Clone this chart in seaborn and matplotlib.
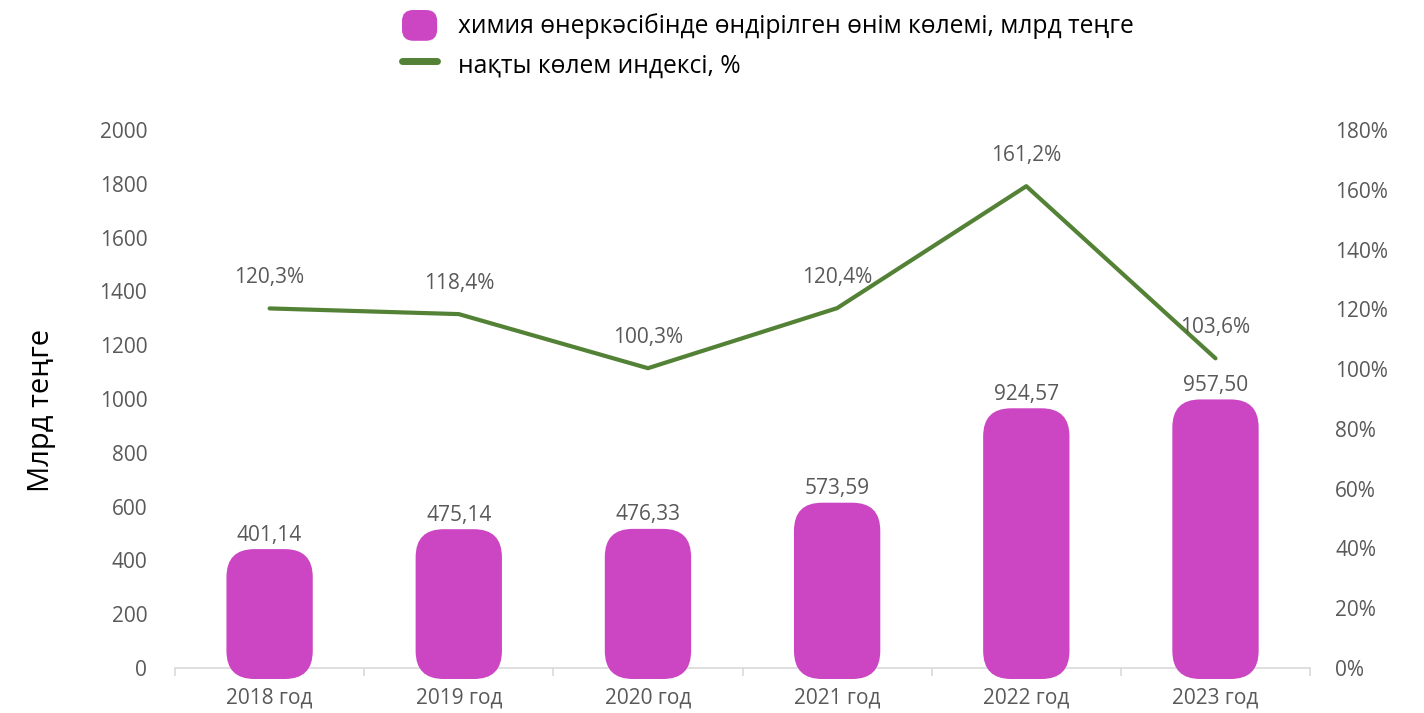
"""
Chemical industry output volume and real volume index, 2018-2023.
"""

import numpy as np
import pandas as pd
import matplotlib
matplotlib.use("Agg")
import matplotlib.pyplot as plt
import seaborn as sns
from matplotlib.patches import FancyBboxPatch
from matplotlib.lines import Line2D
from matplotlib.legend_handler import HandlerPatch
from matplotlib.ticker import FixedLocator

years = ["2018 год", "2019 год", "2020 год", "2021 год", "2022 год", "2023 год"]
output_bn = [401.14, 475.14, 476.33, 573.59, 924.57, 957.50]
volume_index = [120.3, 118.4, 100.3, 120.4, 161.2, 103.6]

bar_label = "химия өнеркәсібінде өндірілген өнім көлемі, млрд теңге"
line_label = "нақты көлем индексі, %"

BAR_COLOR = "#CC46C3"
LINE_COLOR = "#538135"
TEXT_GRAY = "#595959"

sns.set_theme(style="white")
plt.rcParams["font.family"] = ["Open Sans", "DejaVu Sans"]

df = pd.DataFrame({"year": years, "output": output_bn, "index": volume_index})

fig = plt.figure(figsize=(14.24, 7.13), dpi=100)
ax = fig.add_axes([0.1229, 0.0631, 0.7971, 0.7546])

sns.barplot(data=df, x="year", y="output", color=BAR_COLOR, width=0.34,
            saturation=1, ax=ax)

# swap plain bars for rounded ones
px_x = 1 / 189.2          # data units per pixel, x
px_y = 2000 / 538.0       # data units per pixel, y
for p in list(ax.patches):
    x, y, w, h = p.get_x(), p.get_y(), p.get_width(), p.get_height()
    p.remove()
    rb = FancyBboxPatch((x, y), w, h,
                        boxstyle=f"round,pad={11 * px_x},rounding_size={28 * px_x}",
                        mutation_aspect=px_y / px_x,
                        facecolor=BAR_COLOR, edgecolor="none",
                        zorder=3, clip_on=False)
    ax.add_patch(rb)

for i, v in enumerate(output_bn):
    ax.annotate(f"{v:.2f}".replace(".", ","), (i, v), xytext=(0, 18),
                textcoords="offset points", ha="center", va="center",
                fontsize=15, color=TEXT_GRAY)

ax.set_xlim(-0.5, 5.5)
ax.set_ylim(0, 2000)
ax.set_yticks(range(0, 2001, 200))
ax.set_xlabel("")
ax.set_ylabel("Млрд теңге", fontsize=21, color="black")
ax.yaxis.set_label_coords(-0.105, 0.478)
ax.tick_params(axis="y", length=0, labelsize=15, labelcolor=TEXT_GRAY, pad=20)
ax.tick_params(axis="x", length=0, labelsize=15, labelcolor=TEXT_GRAY, pad=14)
ax.xaxis.set_minor_locator(FixedLocator(np.arange(-0.5, 6, 1)))
ax.tick_params(axis="x", which="minor", length=6, width=1.2, color="#d9d9d9",
               bottom=True)
for s in ["top", "left", "right"]:
    ax.spines[s].set_visible(False)
ax.spines["bottom"].set_color("#d9d9d9")
ax.spines["bottom"].set_linewidth(1.2)

ax2 = ax.twinx()
sns.lineplot(x=np.arange(len(years)), y=volume_index, color=LINE_COLOR,
             linewidth=3, ax=ax2)
for i, v in enumerate(volume_index):
    ax2.annotate(f"{v:.1f}%".replace(".", ","), (i, v), xytext=(0, 22),
                 textcoords="offset points", ha="center", va="center",
                 fontsize=15, color=TEXT_GRAY)
ax2.set_ylim(0, 180)
ax2.set_yticks(range(0, 181, 20))
ax2.set_yticklabels([f"{t}%" for t in range(0, 181, 20)])
ax2.tick_params(axis="y", length=0, labelsize=15, labelcolor=TEXT_GRAY, pad=18)
for s in ["top", "left", "right", "bottom"]:
    ax2.spines[s].set_visible(False)
ax2.set_xlim(-0.5, 5.5)


def rounded_handle(legend, orig_handle, xdescent, ydescent, width, height, fontsize):
    return FancyBboxPatch((-xdescent + 4, -ydescent + 4), width - 8, height - 8,
                          boxstyle="round,pad=4,rounding_size=8")


handles = [
    FancyBboxPatch((0, 0), 1, 1, facecolor=BAR_COLOR, edgecolor="none"),
    Line2D([], [], color=LINE_COLOR, linewidth=5),
]
fig.legend(handles, [bar_label, line_label], loc="upper left",
           bbox_to_anchor=(402 / 1424, 1 - 10 / 713), frameon=False,
           fontsize=17.7, handlelength=1.43, handleheight=1.55,
           handletextpad=0.85, labelspacing=0.36, borderaxespad=0,
           borderpad=0, labelcolor="black",
           handler_map={FancyBboxPatch: HandlerPatch(patch_func=rounded_handle)})

fig.savefig("out.png", dpi=100)
